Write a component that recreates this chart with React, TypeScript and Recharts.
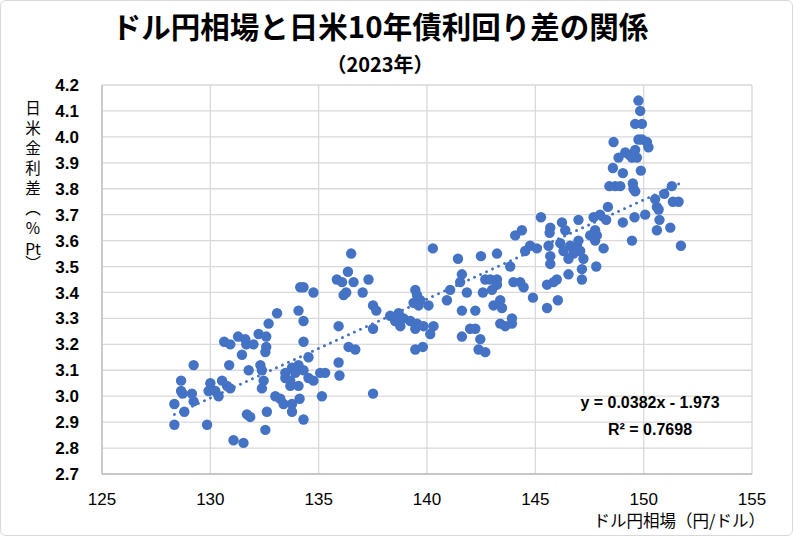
import { ScatterChart, Scatter, XAxis, YAxis, CartesianGrid, ReferenceLine } from 'recharts';

// ドル円相場（円/ドル）
const usdJpy = [
  132.69, 132.23, 132.58, 131.28, 131.61, 131.66, 131.99, 130.64, 130.92, 132.58,
  132.54, 131.46, 129.23, 130.87, 131.77, 132.31, 132.38, 128.65, 128.65, 130.0,
  130.54, 130.77, 129.92, 130.23, 130.38, 130.92, 132.46, 132.38, 129.15, 129.23,
  128.34, 128.8, 131.69, 131.84, 128.34, 129.85, 132.54, 131.07, 131.53, 128.72,
  136.5, 136.35, 135.84, 136.08, 136.61, 137.3, 134.15, 134.3, 134.76, 136.15,
  136.27, 137.03, 133.08, 134.07, 134.3, 137.51, 137.66, 135.92, 137.51, 134.3,
  136.38, 136.69, 134.53, 135.92, 133.77, 134.07, 134.3, 133.92, 133.46, 133.46,
  133.69, 135.07, 135.3, 134.53, 134.76, 135.96, 133.69, 134.07, 134.12, 133.0,
  133.23, 133.38, 133.77, 133.77, 135.15, 137.51, 134.3, 132.61,
  140.27, 141.43, 142.49, 143.23, 141.61, 141.53, 142.69, 142.92, 143.23, 139.46,
  139.54, 139.38, 139.69, 140.07, 139.61, 141.07, 141.84, 142.58, 143.0, 143.23,
  140.92, 141.61, 142.23, 143.07, 143.38, 143.46, 138.3, 138.69, 138.92, 138.53,
  138.77, 139.23, 139.54, 139.46, 139.84, 140.3, 140.15, 143.38, 143.61, 141.61,
  141.99, 142.23, 142.46, 139.46, 139.81, 142.38, 142.69,
  148.35, 147.99, 147.69, 148.27, 145.26, 146.23, 146.99, 149.04, 145.69, 145.66,
  146.38, 144.38, 144.07, 147.76, 147.84, 147.53, 147.76, 149.46, 146.99, 144.76,
  144.53, 145.07, 145.61, 146.15, 146.61, 146.92, 147.07, 146.3, 146.76, 148.15,
  145.69, 146.53, 147.22, 145.69, 147.81, 147.15, 147.15, 143.84, 146.53, 145.99,
  145.84, 145.54, 143.99, 144.3, 144.46, 144.89, 146.04, 145.54, 143.92, 143.92,
  149.76, 149.84, 149.61, 149.92, 149.92, 149.76, 150.15, 150.22, 148.61, 149.15,
  149.35, 149.61, 149.69, 148.84, 149.46, 148.58, 149.04, 149.87, 148.42, 148.69,
  148.92, 149.5, 149.53, 149.61, 151.3, 150.95, 151.35, 151.61, 150.53, 150.61,
  150.69, 150.07, 149.58, 150.73, 151.23, 150.61, 151.72,
];

// 日米金利差（%Pt）
const spread = [
  3.28, 3.24, 3.23, 3.23, 3.22, 3.2, 3.2, 3.21, 3.2, 3.19,
  3.17, 3.16, 3.12, 3.12, 3.1, 3.12, 3.1, 3.06, 3.02, 3.05,
  3.06, 3.04, 3.02, 3.02, 3.0, 3.03, 3.06, 3.03, 3.01, 2.98,
  2.97, 2.94, 2.93, 2.92, 2.89, 2.89, 2.87, 2.83, 2.82, 3.01,
  3.55, 3.48, 3.45, 3.44, 3.44, 3.45, 3.42, 3.42, 3.4, 3.39,
  3.4, 3.4, 3.32, 3.33, 3.29, 3.35, 3.33, 3.27, 3.26, 3.21,
  3.19, 3.18, 3.15, 3.13, 3.11, 3.12, 3.1, 3.09, 3.09, 3.07,
  3.06, 3.09, 3.09, 3.07, 3.06, 3.08, 3.04, 3.04, 2.99, 3.0,
  2.99, 2.97, 2.97, 2.94, 3.0, 3.01, 2.91, 2.94,
  3.57, 3.53, 3.54, 3.55, 3.47, 3.44, 3.45, 3.45, 3.45, 3.41,
  3.39, 3.36, 3.37, 3.35, 3.35, 3.41, 3.4, 3.4, 3.41, 3.43,
  3.37, 3.33, 3.33, 3.35, 3.37, 3.34, 3.31, 3.32, 3.3, 3.29,
  3.27, 3.29, 3.28, 3.26, 3.27, 3.27, 3.24, 3.28, 3.27, 3.23,
  3.26, 3.26, 3.22, 3.18, 3.19, 3.18, 3.17,
  3.73, 3.7, 3.69, 3.68, 3.69, 3.67, 3.68, 3.67, 3.65, 3.63,
  3.64, 3.64, 3.62, 3.64, 3.62, 3.62, 3.6, 3.6, 3.6, 3.58,
  3.56, 3.57, 3.58, 3.59, 3.58, 3.58, 3.56, 3.56, 3.55, 3.57,
  3.54, 3.53, 3.53, 3.51, 3.5, 3.49, 3.45, 3.5, 3.47, 3.45,
  3.44, 3.43, 3.44, 3.44, 3.42, 3.38, 3.37, 3.34, 3.3, 3.28,
  4.14, 4.1, 4.05, 4.05, 3.99, 3.99, 3.98, 3.96, 3.98, 3.94,
  3.93, 3.95, 3.92, 3.92, 3.92, 3.88, 3.86, 3.87, 3.81, 3.81,
  3.81, 3.82, 3.8, 3.79, 3.81, 3.78, 3.75, 3.75, 3.76, 3.73,
  3.72, 3.7, 3.69, 3.68, 3.65, 3.64, 3.58,
];

const xTicks = [125, 130, 135, 140, 145, 150, 155];
const yTicks = [2.7, 2.8, 2.9, 3.0, 3.1, 3.2, 3.3, 3.4, 3.5, 3.6, 3.7, 3.8, 3.9, 4.0, 4.1, 4.2];

// Excel の線形近似
const trendSlope = 0.0382;
const trendIntercept = -1.973;
const rSquared = 0.7698;

const points = usdJpy.map((x, i) => ({ x, y: spread[i] }));
const xMin = Math.min(...usdJpy);
const xMax = Math.max(...usdJpy);
const trend = [
  { x: xMin, y: trendSlope * xMin + trendIntercept },
  { x: xMax, y: trendSlope * xMax + trendIntercept },
];

const BLUE = '#4472c4';
const JP = '"Noto Sans CJK JP", "Noto Sans", sans-serif';
const NUM = '"Liberation Sans", Arial, sans-serif';

const Dot = (props: any) => <circle cx={props.cx} cy={props.cy} r={5.2} fill={BLUE} />;

const App = () => {
  return (
    <div style={{ position: 'absolute', left: 0, top: 0, width: 793, height: 536, background: '#fff' }}>
      <ScatterChart width={793} height={536} margin={{ top: 85, right: 41, bottom: 30, left: 0 }}>
        <CartesianGrid stroke="#d9d9d9" strokeWidth={1.3} />
        <XAxis
          type="number"
          dataKey="x"
          domain={[125, 155]}
          ticks={xTicks}
          height={32}
          tickLine={false}
          tickMargin={13}
          axisLine={{ stroke: '#bfbfbf', strokeWidth: 1.3 }}
          tick={{ fill: '#000', fontSize: 17, fontFamily: NUM }}
        />
        <YAxis
          type="number"
          dataKey="y"
          domain={[2.7, 4.2]}
          ticks={yTicks}
          width={102}
          tickLine={false}
          tickMargin={17}
          interval={0}
          axisLine={{ stroke: '#bfbfbf', strokeWidth: 1.3 }}
          tickFormatter={(v: number) => v.toFixed(1)}
          tick={{ fill: '#000', fontSize: 17, fontWeight: 700, fontFamily: NUM }}
        />
        <Scatter data={points} fill={BLUE} shape={Dot} isAnimationActive={false} />
        <ReferenceLine
          segment={trend}
          stroke={BLUE}
          strokeWidth={2.8}
          strokeDasharray="0.1 6.5"
          strokeLinecap="round"
          ifOverflow="visible"
        />
      </ScatterChart>

      <div style={{ position: 'absolute', left: 0, top: 0, width: 793, height: 536, boxSizing: 'border-box', border: '1px solid #d9d9d9', borderRadius: 6, pointerEvents: 'none' }} />

      <div style={{ position: 'absolute', left: 30, width: 700, top: 7, textAlign: 'center', fontFamily: JP, fontWeight: 700, fontSize: 29.5, lineHeight: '36px', color: '#000' }}>
        ドル円相場と日米10年債利回り差の関係
      </div>
      <div style={{ position: 'absolute', left: 230, width: 300, top: 52, textAlign: 'center', fontFamily: JP, fontWeight: 700, fontSize: 20, lineHeight: '24px', color: '#000' }}>
        （2023年）
      </div>

      <div style={{ position: 'absolute', left: 24, top: 100, writingMode: 'vertical-rl', textOrientation: 'upright', fontFamily: JP, fontSize: 15.5, letterSpacing: 4.5, lineHeight: '18px', color: '#000' } as any}>
        日米金利差（%<span style={{ textCombineUpright: 'all' } as any}>Pt</span>）
      </div>
      <div style={{ position: 'absolute', right: 793 - 765, top: 511, fontFamily: JP, fontSize: 16.5, lineHeight: '18px', color: '#000', whiteSpace: 'nowrap' }}>
        ドル円相場（円/ドル）
      </div>

      <div style={{ position: 'absolute', left: 550, width: 200, top: 392, textAlign: 'center', fontFamily: NUM, fontWeight: 700, fontSize: 16, lineHeight: '22px', color: '#000' }}>
        y = {trendSlope}x - {Math.abs(trendIntercept)}
      </div>
      <div style={{ position: 'absolute', left: 550, width: 200, top: 419, textAlign: 'center', fontFamily: NUM, fontWeight: 700, fontSize: 16, lineHeight: '22px', color: '#000' }}>
        R² = {rSquared}
      </div>
    </div>
  );
};

export default App;
